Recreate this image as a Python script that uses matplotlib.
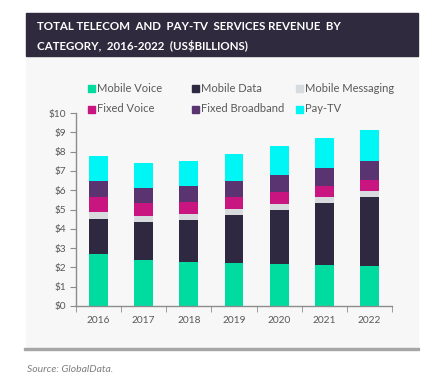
import matplotlib.pyplot as plt
from matplotlib.patches import Rectangle

years = ['2016', '2017', '2018', '2019', '2020', '2021', '2022']
mobile_voice = [2.69, 2.37, 2.27, 2.23, 2.18, 2.13, 2.08]
mobile_data = [1.81, 1.98, 2.18, 2.50, 2.81, 3.22, 3.58]
mobile_messaging = [0.37, 0.31, 0.31, 0.31, 0.31, 0.31, 0.31]
fixed_voice = [0.76, 0.68, 0.63, 0.62, 0.62, 0.57, 0.57]
fixed_broadband = [0.85, 0.76, 0.83, 0.83, 0.89, 0.94, 0.98]
pay_tv = [1.30, 1.31, 1.30, 1.41, 1.50, 1.56, 1.61]

series = [
    ('Mobile Voice', mobile_voice, '#00dba0'),
    ('Mobile Data', mobile_data, '#2e2840'),
    ('Mobile Messaging', mobile_messaging, '#d8dbde'),
    ('Fixed Voice', fixed_voice, '#c8157f'),
    ('Fixed Broadband', fixed_broadband, '#5a3470'),
    ('Pay-TV', pay_tv, '#00f5f5'),
]
y_labels = ['$%d' % v for v in range(0, 11)]

plt.rcParams['font.family'] = ['Lato', 'DejaVu Sans']
fig = plt.figure(figsize=(4.39, 3.78), dpi=100)
fig.patch.set_facecolor('white')

# everything below in pixel coords of the 439x378 image
W, H = 439, 378
def box(x0, y0, x1, y1, color, z=-1):
    fig.patches.append(Rectangle((x0 / W, 1 - y1 / H), (x1 - x0) / W, (y1 - y0) / H,
                                 transform=fig.transFigure, color=color, zorder=z))
box(26, 56, 418, 348, '#f7f7f7', z=-2)
box(26, 13, 418, 56, '#2f2a3d')
box(24, 348, 419, 350, '#a6a6a6')

fig.text(37 / W, 1 - 26 / H, 'TOTAL TELECOM  AND  PAY-TV  SERVICES REVENUE  BY',
         color='white', fontsize=8.3, fontweight='bold', va='center')
fig.text(37 / W, 1 - 46 / H, 'CATEGORY,  2016-2022  (US$BILLIONS)',
         color='white', fontsize=8.3, fontweight='bold', va='center')
fig.text(27 / W, 1 - 369 / H, 'Source: GlobalData.', color='#7f7f7f',
         fontsize=7.5, style='italic', va='center')

ax = fig.add_axes([76 / W, 1 - 306 / H, (392 - 76) / W, (306 - 113) / H])
ax.set_facecolor('none')
x = range(len(years))
bottom = [0] * len(years)
for name, vals, col in series:
    ax.bar(x, vals, 0.42, bottom=bottom, color=col, label=name, zorder=2)
    bottom = [bt + v for bt, v in zip(bottom, vals)]

ax.set_xlim(-0.5, len(years) - 0.5)
ax.set_ylim(0, 10)
ax.set_yticks(range(0, 11))
ax.set_yticklabels(y_labels)
ax.set_xticks(list(x))
ax.set_xticklabels(years)
ax.set_xticks([i - 0.5 for i in range(len(years) + 1)], minor=True)
ax.tick_params(axis='x', which='major', length=0, pad=7)
ax.tick_params(axis='x', which='minor', length=4, color='#8c8c8c')
ax.tick_params(axis='y', length=4, color='#8c8c8c', pad=3)
ax.tick_params(labelsize=7.3, labelcolor='#595959')
for s in ['top', 'right']:
    ax.spines[s].set_visible(False)
for s in ['left', 'bottom']:
    ax.spines[s].set_color('#8c8c8c')
    ax.spines[s].set_linewidth(1)

# legend laid out in an even 3x2 grid, like the original
col_x = [88, 192, 296]
row_y = [88, 109]
for i, (name, vals, col) in enumerate(series):
    px = col_x[i % 3]
    py = row_y[i // 3]
    box(px, py - 3.5, px + 7, py + 3.5, col, z=3)
    fig.text((px + 9) / W, 1 - py / H, name, color='#595959', fontsize=8,
             va='center')

fig.savefig('out.png', dpi=100, facecolor='white')
